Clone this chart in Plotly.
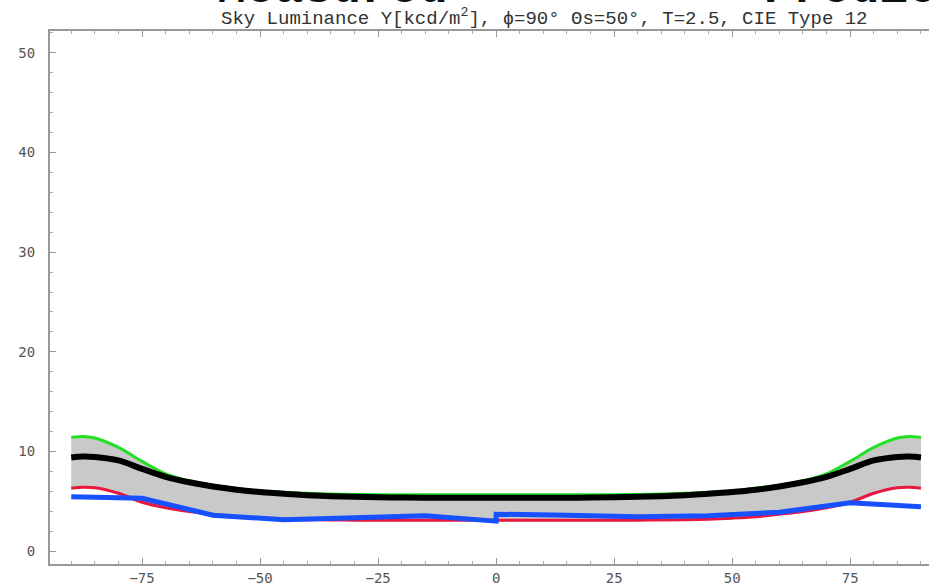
import plotly.graph_objects as go

# Zenith-angle grid for the model curves (degrees)
angles = [-90, -87.5, -85, -80, -75, -70, -65, -60, -55, -50, -45, -40, -35, -30, -25, -20, -15, -10, -5, 0,
          5, 10, 15, 20, 25, 30, 35, 40, 45, 50, 55, 60, 65, 70, 75, 80, 85, 87.5, 90]

# CIE model: upper bound, central value, lower bound  [kcd/m^2]
upper = [11.4, 11.5, 11.35, 10.4, 9.0, 7.75, 7.05, 6.6, 6.3, 6.05, 5.9, 5.8, 5.72, 5.68, 5.66, 5.65, 5.65, 5.65, 5.65, 5.65,
         5.65, 5.65, 5.65, 5.65, 5.66, 5.68, 5.72, 5.8, 5.9, 6.05, 6.3, 6.6, 7.05, 7.75, 9.0, 10.4, 11.35, 11.5, 11.4]
central = [9.4, 9.5, 9.45, 9.1, 8.25, 7.45, 6.9, 6.48, 6.16, 5.92, 5.74, 5.6, 5.5, 5.44, 5.4, 5.37, 5.35, 5.35, 5.35, 5.35,
           5.35, 5.35, 5.35, 5.37, 5.4, 5.44, 5.5, 5.6, 5.74, 5.92, 6.16, 6.48, 6.9, 7.45, 8.25, 9.1, 9.45, 9.5, 9.4]
lower = [6.3, 6.4, 6.35, 5.8, 4.9, 4.35, 3.98, 3.7, 3.45, 3.3, 3.2, 3.15, 3.12, 3.1, 3.08, 3.08, 3.08, 3.08, 3.08, 3.08,
         3.08, 3.08, 3.08, 3.08, 3.08, 3.1, 3.12, 3.15, 3.2, 3.3, 3.45, 3.7, 3.98, 4.35, 4.9, 5.8, 6.35, 6.4, 6.3]

# Measured luminance (two readings at the zenith)
meas_angles = [-90, -75, -60, -45, -30, -15, 0, 0, 15, 30, 45, 60, 75, 90]
measured = [5.45, 5.3, 3.6, 3.15, 3.35, 3.55, 3.0, 3.7, 3.6, 3.45, 3.55, 3.9, 4.85, 4.45]

x_ticks = [-75, -50, -25, 0, 25, 50, 75]
y_ticks = [0, 10, 20, 30, 40, 50]

tick_font = dict(family="DejaVu Sans Mono", size=14, color="#555555")

fig = go.Figure()

# grey band between the model bounds
fig.add_trace(go.Scatter(x=angles, y=lower, mode="lines", line=dict(width=0, shape="spline"),
                         hoverinfo="skip", showlegend=False))
fig.add_trace(go.Scatter(x=angles, y=upper, mode="lines", line=dict(width=0, shape="spline"),
                         fill="tonexty", fillcolor="#c9c9c9", hoverinfo="skip", showlegend=False))

fig.add_trace(go.Scatter(x=angles, y=lower, mode="lines",
                         line=dict(color="#e8173e", width=3, shape="spline"), showlegend=False))
fig.add_trace(go.Scatter(x=angles, y=upper, mode="lines",
                         line=dict(color="#22e022", width=3, shape="spline"), showlegend=False))
fig.add_trace(go.Scatter(x=angles, y=central, mode="lines",
                         line=dict(color="#000000", width=6, shape="spline"), showlegend=False))
fig.add_trace(go.Scatter(x=meas_angles, y=measured, mode="lines",
                         line=dict(color="#1650ff", width=5), showlegend=False))

fig.update_layout(
    width=929, height=586,
    margin=dict(l=50, r=0, t=31, b=14),
    paper_bgcolor="white", plot_bgcolor="white",
    xaxis=dict(range=[-94.5, 91.7], tickvals=x_ticks, ticks="inside", ticklen=6,
               tickcolor="#999999", showline=True, linecolor="#999999", linewidth=2,
               mirror="allticks", showgrid=False, zeroline=False, tickfont=tick_font,
               minor=dict(dtick=5, ticks="inside", ticklen=3, tickcolor="#aaaaaa")),
    yaxis=dict(range=[-1.3, 52.2], tickvals=y_ticks, ticks="inside", ticklen=6,
               tickcolor="#999999", showline=True, linecolor="#999999", linewidth=2,
               mirror=False, showgrid=False, zeroline=False, tickfont=tick_font,
               ticklabelstandoff=10,
               minor=dict(dtick=2, ticks="inside", ticklen=3, tickcolor="#aaaaaa")),
    annotations=[
        dict(text="Sky Luminance Y[kcd/m<sup>2</sup>], \u03d5=90\u00b0 \u0398s=50\u00b0, T=2.5, CIE Type 12",
             xref="paper", yref="paper", x=0.563, y=1.026, xanchor="center", yanchor="middle",
             showarrow=False, font=dict(family="Liberation Mono", size=19, color="#333333")),
        dict(text="<b>Measured</b>", xref="paper", yref="paper", x=0.321, y=1.025,
             xanchor="center", yanchor="bottom", showarrow=False,
             font=dict(family="Liberation Mono", size=48, color="#111111")),
        dict(text="<b>Predicted</b>", xref="paper", yref="paper", x=0.81, y=1.025,
             xanchor="left", yanchor="bottom", showarrow=False,
             font=dict(family="Liberation Mono", size=48, color="#111111")),
    ],
)

fig.write_html("out.html")
